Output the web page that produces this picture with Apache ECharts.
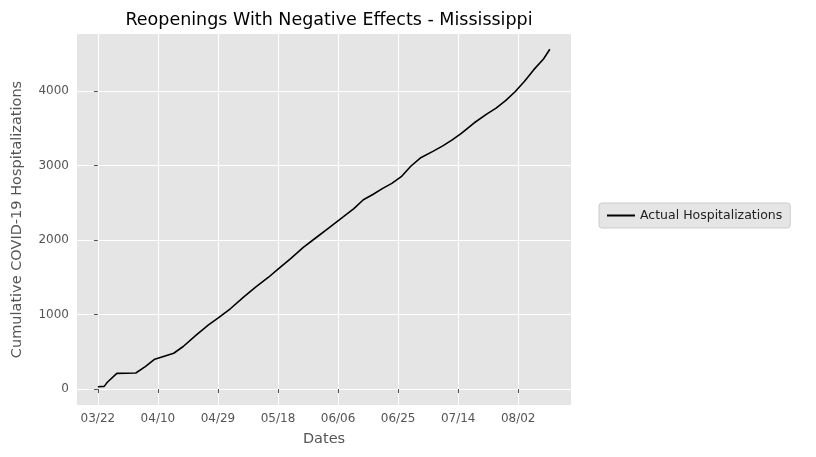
<!DOCTYPE html>
<html><head><meta charset="utf-8">
<script src="https://cdn.jsdelivr.net/npm/echarts@6/dist/echarts.min.js"></script>
<style>html,body{margin:0;padding:0;background:#fff}#c{width:816px;height:457px}</style>
</head><body><div id="c"></div>
<script>
// days after 03/22
const days = [0,2,3,6,12,15,18,21,24,27,31,35,38,42,46,50,54,57,61,65,69,73,77,81,84,87,90,93,96,99,102,106,109,112,115,119,123,126,129,132,135,138,141,143];
const hosp = [30,35,90,210,215,300,400,440,480,570,720,860,950,1080,1230,1370,1500,1610,1750,1900,2030,2160,2290,2420,2540,2610,2690,2760,2850,2990,3100,3190,3260,3340,3430,3570,3690,3770,3870,3990,4130,4290,4430,4560];
const tickDays = [0,19,38,57,76,95,114,133];
const tickLabels = ['03/22','04/10','04/29','05/18','06/06','06/25','07/14','08/02'];
const yTicks = [0,1000,2000,3000,4000];
const chart = echarts.init(document.getElementById('c'));
const axisText = {color:'#555', fontSize:12, fontFamily:'DejaVu Sans'};
chart.setOption({
  animation:false,
  title:{text:'Reopenings With Negative Effects - Mississippi', left:324, top:6, textAlign:'center',
    textStyle:{fontFamily:'DejaVu Sans', fontSize:17.5, fontWeight:'normal', color:'#000'}},
  legend:{left:599, top:203, orient:'vertical', backgroundColor:'#e5e5e5', borderColor:'#ccc', borderWidth:1,
    borderRadius:3, padding:[6,8], itemWidth:28, itemHeight:2, icon:'rect',
    textStyle:{fontFamily:'DejaVu Sans', fontSize:12.5, color:'#222'}, data:['Actual Hospitalizations']},
  grid:{left:77, right:245, top:34, bottom:52, backgroundColor:'#e5e5e5', show:true, borderWidth:0},
  xAxis:{type:'value', min:-6.6, max:149.7, name:'Dates', nameLocation:'middle', nameGap:27,
    nameTextStyle:{fontFamily:'DejaVu Sans', fontSize:14.5, color:'#555'},
    axisLine:{show:false}, axisTick:{show:true, length:4, lineStyle:{color:'#555'}, customValues:tickDays},
    axisLabel:Object.assign({customValues:tickDays, formatter:v=>tickLabels[tickDays.indexOf(Math.round(v))]||''}, axisText),
    splitLine:{show:true, lineStyle:{color:'#fff', width:1}}},
  yAxis:{type:'value', min:-215, max:4765, name:'Cumulative COVID-19 Hospitalizations', nameLocation:'middle', nameGap:52,
    nameTextStyle:{fontFamily:'DejaVu Sans', fontSize:14.5, color:'#555'},
    axisLine:{show:false}, axisTick:{show:true, length:4, lineStyle:{color:'#555'}, customValues:yTicks},
    axisLabel:Object.assign({customValues:yTicks, formatter:v=>String(Math.round(v))}, axisText),
    splitLine:{show:true, lineStyle:{color:'#fff', width:1}}},
  series:[{name:'Actual Hospitalizations', type:'line', showSymbol:false, symbol:'none',
    lineStyle:{color:'#000', width:1.6}, itemStyle:{color:'#000'},
    data:days.map((d,i)=>[d,hosp[i]])}]
});
</script></body></html>
